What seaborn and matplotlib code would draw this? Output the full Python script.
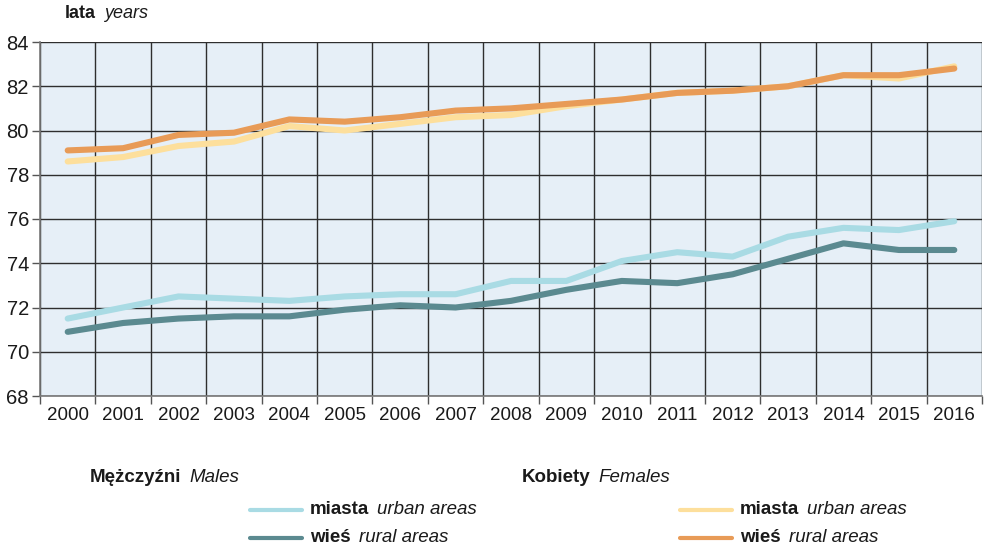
import seaborn as sns
import matplotlib.pyplot as plt
import pandas as pd
from matplotlib.lines import Line2D
from matplotlib.ticker import MultipleLocator

years = list(range(2000, 2017))
men_urban = [71.5, 72.0, 72.5, 72.4, 72.3, 72.5, 72.6, 72.6, 73.2, 73.2, 74.1, 74.5, 74.3, 75.2, 75.6, 75.5, 75.9]
men_rural = [70.9, 71.3, 71.5, 71.6, 71.6, 71.9, 72.1, 72.0, 72.3, 72.8, 73.2, 73.1, 73.5, 74.2, 74.9, 74.6, 74.6]
women_urban = [78.6, 78.8, 79.3, 79.5, 80.2, 80.0, 80.3, 80.6, 80.7, 81.1, 81.4, 81.7, 81.8, 82.0, 82.5, 82.35, 82.9]
women_rural = [79.1, 79.2, 79.8, 79.9, 80.5, 80.4, 80.6, 80.9, 81.0, 81.2, 81.4, 81.7, 81.8, 82.0, 82.5, 82.5, 82.8]
y_ticks = [68, 70, 72, 74, 76, 78, 80, 82, 84]

series = {'kobiety miasta': women_urban, 'kobiety wieś': women_rural,
          'mężczyźni miasta': men_urban, 'mężczyźni wieś': men_rural}
colors = {'kobiety miasta': '#fddf9c', 'kobiety wieś': '#e89b57',
          'mężczyźni miasta': '#a9dbe4', 'mężczyźni wieś': '#5b8a90'}

df = pd.DataFrame([(y, k, v) for k, vals in series.items() for y, v in zip(years, vals)],
                  columns=['rok', 'grupa', 'wartosc'])

sns.set_theme(style='ticks')
plt.rcParams['font.family'] = ['Liberation Sans', 'DejaVu Sans']

fig = plt.figure(figsize=(9.9, 5.49), dpi=100)
ax = fig.add_axes([40 / 990, 1 - 396 / 549, 942 / 990, 354 / 549])
ax.set_facecolor('#e6eff7')

sns.lineplot(data=df, x='rok', y='wartosc', hue='grupa', palette=colors,
             hue_order=list(series.keys()), linewidth=4.4, ax=ax, legend=False)
for ln in ax.lines:
    ln.set_solid_capstyle('round')
    ln.set_solid_joinstyle('round')

ax.set_xlim(1999.5, 2016.5)
ax.set_ylim(68, 84)
ax.set_xticks(years)
ax.set_xticklabels([str(y) for y in years])
ax.xaxis.set_minor_locator(MultipleLocator(1, offset=0.5))
ax.set_yticks(y_ticks)
ax.tick_params(axis='x', which='major', length=0, labelsize=13.5, pad=8, colors='#1a1a1a')
ax.tick_params(axis='x', which='minor', length=6, width=1, color='#555555')
ax.tick_params(axis='y', which='major', length=6, width=1, color='#555555', labelsize=14.5, pad=2, labelcolor='#1a1a1a')
ax.grid(which='minor', axis='x', color='#2e2e2e', lw=1)
ax.grid(which='major', axis='y', color='#2e2e2e', lw=1)
ax.grid(which='major', axis='x', visible=False)
ax.set_axisbelow(True)
for s in ['top', 'right']:
    ax.spines[s].set_visible(False)
for s in ['left', 'bottom']:
    ax.spines[s].set_color('#777777')
    ax.spines[s].set_linewidth(1.2)
ax.set_xlabel('')
ax.set_ylabel('')

renderer = fig.canvas.get_renderer()


def pair(x, y, bold, italic, size, gap=8):
    t = fig.text(x, y, bold, fontsize=size, fontweight='bold', va='center', ha='left', color='#1a1a1a')
    bb = t.get_window_extent(renderer)
    fig.text((bb.x1 + gap) / 990, y, italic, fontsize=size, fontstyle='italic', va='center',
             ha='left', color='#1a1a1a')


pair(65 / 990, 1 - 14 / 549, 'lata', 'years', 13)
pair(90 / 990, 1 - 478 / 549, 'Mężczyźni', 'Males', 13.5)
pair(522 / 990, 1 - 478 / 549, 'Kobiety', 'Females', 13.5)

rows = [(510, 'miasta', 'urban areas'), (538, 'wieś', 'rural areas')]
for x0, keys in [(250, ['mężczyźni miasta', 'mężczyźni wieś']), (680, ['kobiety miasta', 'kobiety wieś'])]:
    for (yy, b, i), k in zip(rows, keys):
        fig.add_artist(Line2D([x0 / 990, (x0 + 52) / 990], [1 - yy / 549] * 2,
                              color=colors[k], lw=3, transform=fig.transFigure))
        pair((x0 + 60) / 990, 1 - yy / 549, b, i, 13.5)

fig.savefig('out.png', dpi=100)
